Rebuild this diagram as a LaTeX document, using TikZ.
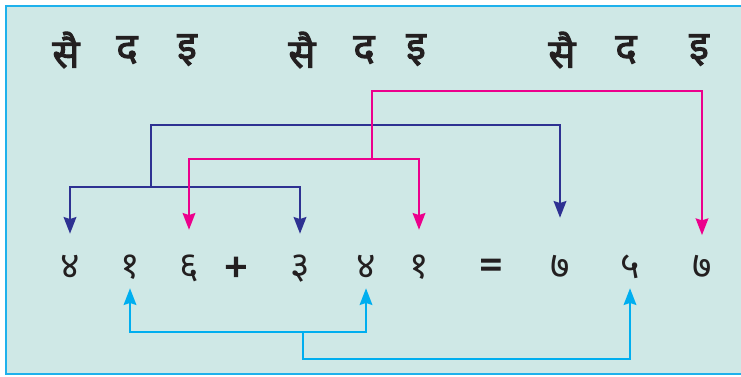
\documentclass[tikz,border=0pt]{standalone}
\usepackage{fontspec}
\setmainfont{Noto Sans}
\newfontfamily\devfont[Script=Devanagari]{Noto Sans}
\newfontfamily\devbold[Script=Devanagari,FakeBold=2.5]{Noto Sans}
\newfontfamily\signfont[FakeBold=3]{Noto Sans}
\usetikzlibrary{arrows.meta,calc,positioning}
\definecolor{Ink}{HTML}{231F20}
\definecolor{Pane}{HTML}{CFE8E6}
\definecolor{Rim}{HTML}{1FB1EC}
\definecolor{Navy}{HTML}{2E3192}
\definecolor{Rose}{HTML}{EC008C}
\definecolor{Sky}{HTML}{00AEEF}
\tikzset{
  place/.style={
    inner sep=0pt, text=Ink, font=\devbold\fontsize{30}{34}\selectfont
  },
  digit/.style={
    inner sep=0pt, minimum height=16.5pt, text height=14pt, text depth=0pt,
    text=Ink, font=\devfont\fontsize{28}{32}\selectfont
  },
  sign/.style={
    inner sep=0pt, minimum height=16.5pt, text=Ink,
    font=\signfont\fontsize{30}{32}\selectfont
  },
  tip/.style={-{Stealth[length=12.5pt,width=9.5pt,inset=1.5pt]}},
  navyflow/.style={tip, line width=1.8pt, draw=Navy},
  roseflow/.style={tip, line width=1.6pt, draw=Rose},
  skyflow/.style={tip, line width=1.6pt, draw=Sky}
}
\begin{document}
\begin{tikzpicture}[x=0.75pt,y=-0.75pt]
    \useasboundingbox (0,0) rectangle (741,376);
    \draw[Rim,line width=1.5pt,fill=Pane] (6,6) rectangle (770,374);
    % place-value headings
    \node[place] (s1) at (66,50) {सै};
    \node[place] (d1) at (127,50) {द};
    \node[place] (i1) at (187,50) {इ};
    \node[place] (s2) at (302,50) {सै};
    \node[place] (d2) at (364,50) {द};
    \node[place] (i2) at (416,50) {इ};
    \node[place] (s3) at (562,50) {सै};
    \node[place] (d3) at (626,50) {द};
    \node[place] (i3) at (699,50) {इ};
    % the sum
    \node[digit] (a1) at (70,269) {४};
    \node[digit] (a2) at (130,269) {१};
    \node[digit] (a3) at (189,269) {६};
    \node[sign] (plus) at (236,269) {+};
    \node[digit] (b1) at (300,269) {३};
    \node[digit] (b2) at (366,269) {४};
    \node[digit] (b3) at (419,269) {१};
    \node[sign] (eq) at (491,269) {=};
    \node[digit] (c1) at (560,269) {७};
    \node[digit] (c2) at (630,269) {५};
    \node[digit] (c3) at (702,269) {७};
    % hundreds
    \coordinate (navyhub) at (151,187);
    \coordinate (navytop) at (151,125);
    \draw[navyflow,shorten >=18pt] (navyhub) -| (a1);
    \draw[navyflow,shorten >=18pt] (navyhub) -| (b1);
    \draw[navyflow,shorten >=30pt] (navyhub) -- (navytop) -| (c1);
    % ones
    \coordinate (rosehub) at (372,159);
    \coordinate (rosetop) at (372,91);
    \draw[roseflow,shorten >=21pt] (rosehub) -| (a3);
    \draw[roseflow,shorten >=21pt] (rosehub) -| (b3);
    \draw[roseflow,shorten >=17pt] (rosehub) -- (rosetop) -| (c3);
    % tens
    \coordinate (skyhub) at (303,332);
    \coordinate (skylow) at (303,359);
    \draw[skyflow,shorten >=6pt] (skyhub) -| (a2);
    \draw[skyflow,shorten >=6pt] (skyhub) -| (b2);
    \draw[skyflow,shorten >=6pt] (skyhub) -- (skylow) -| (c2);
  \end{tikzpicture}
\end{document}
